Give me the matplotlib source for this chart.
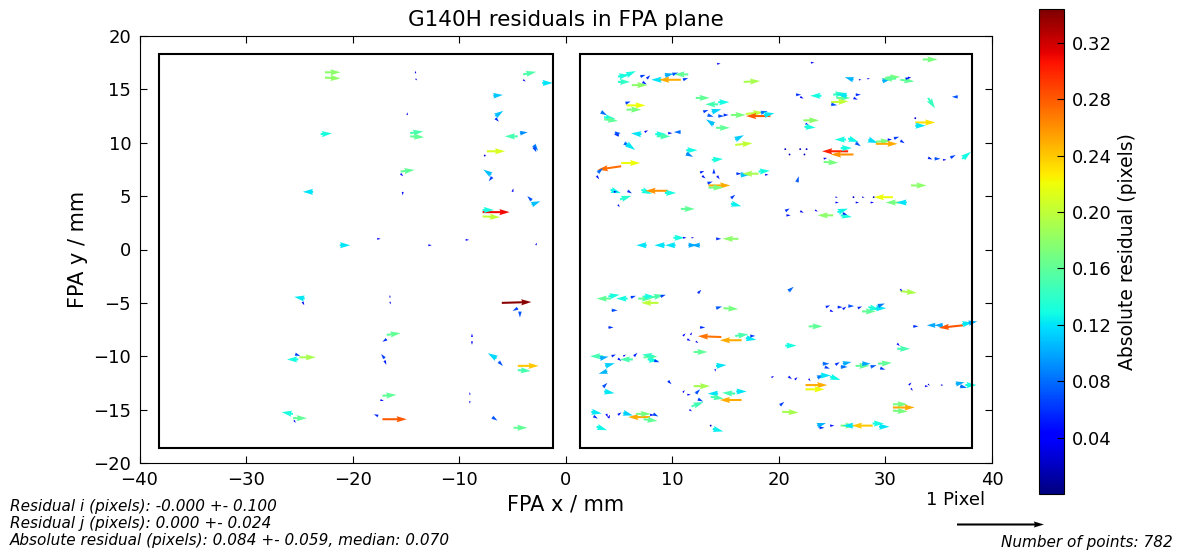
import numpy as np
import matplotlib
matplotlib.use("Agg")
import matplotlib.pyplot as plt
from matplotlib.patches import Rectangle
from matplotlib.colors import Normalize

# ---------------- data (x_mm, y_mm, resid_i_px, resid_j_px) ----------------
left_upper = [
    (-22.6, 16.6, 0.18, 0.0), (-22.6, 16.1, 0.18, -0.01), (-14.1, 16.5, 0.0, 0.03),
    (-14.1, 16.0, 0.02, -0.02), (-4.0, 16.4, 0.15, 0.03), (-4.0, 15.9, 0.03, -0.02),
    (-2.2, 15.6, 0.12, 0.0), (-6.8, 14.4, 0.11, 0.01), (-14.9, 12.6, 0.01, 0.03),
    (-6.6, 12.5, 0.09, 0.06), (-6.6, 12.3, 0.04, -0.04), (-23.0, 10.8, 0.13, 0.01),
    (-14.6, 10.9, 0.15, 0.02), (-14.6, 10.6, 0.16, -0.01), (-4.5, 10.6, -0.15, 0.0),
    (-4.3, 10.9, 0.09, 0.01), (-3.0, 9.8, 0.05, -0.07), (-3.0, 9.6, 0.03, -0.06),
    (-7.4, 9.2, 0.21, 0.0), (-7.6, 8.8, 0.02, -0.01), (-15.5, 7.3, 0.16, 0.02),
    (-15.5, 7.1, 0.03, -0.03), (-7.0, 7.0, -0.09, 0.06), (-6.9, 6.8, -0.04, -0.05),
    (-23.7, 5.4, -0.12, 0.0), (-15.3, 5.4, 0.0, -0.04), (-5.0, 5.4, 0.01, 0.04),
    (-3.2, 4.6, -0.05, 0.05), (-3.2, 4.2, 0.10, 0.04), (-7.8, 3.5, 0.31, 0.0),
    (-7.8, 3.7, 0.13, 0.0), (-7.8, 3.1, 0.20, -0.01), (-17.7, 1.0, 0.04, 0.0),
    (-12.9, 0.4, 0.04, 0.0), (-9.4, 0.9, 0.04, 0.0), (-2.8, 0.4, 0.01, 0.03),
    (-21.2, 0.4, 0.12, 0.0),
]
left_lower = [
    (-24.5, -4.6, -0.12, 0.02), (-24.7, -4.9, 0.02, -0.04), (-16.5, -4.5, 0.0, 0.03),
    (-16.5, -4.9, 0.01, -0.03), (-6.0, -5.0, 0.34, 0.01), (-4.5, -5.5, -0.06, -0.03),
    (-4.3, -5.8, 0.0, -0.07), (-16.8, -8.0, 0.16, 0.02), (-16.8, -8.4, -0.05, -0.03),
    (-8.8, -8.2, 0.0, 0.04), (-8.8, -8.6, 0.0, -0.04), (-25.4, -9.8, 0.06, -0.02),
    (-25.1, -10.3, -0.13, 0.0), (-25.0, -10.1, 0.19, 0.0), (-17.0, -10.2, -0.04, 0.05),
    (-17.0, -10.4, 0.02, -0.05), (-6.5, -10.2, -0.10, 0.06), (-6.3, -10.5, 0.05, -0.05),
    (-4.5, -10.9, 0.24, 0.0), (-4.5, -11.3, 0.15, -0.01), (-17.2, -13.7, 0.16, 0.01),
    (-17.4, -14.1, 0.04, -0.01), (-9.0, -13.6, 0.0, 0.03), (-9.0, -14.2, 0.0, -0.03),
    (-25.6, -15.4, -0.13, 0.02), (-25.6, -15.8, 0.16, 0.0), (-25.5, -16.0, 0.02, -0.03),
    (-17.6, -15.6, -0.05, 0.02), (-17.2, -15.9, 0.28, 0.0), (-6.9, -15.7, 0.06, -0.04),
    (-4.9, -16.7, 0.16, 0.0),
]
right_upper_a = [
    (4.9, 16.2, 0.13, 0.02), (4.9, 15.7, 0.14, 0.0), (5.6, 16.3, 0.12, 0.05),
    (7.0, 16.2, 0.06, 0.02), (7.2, 15.7, 0.05, -0.03), (7.6, 16.0, 0.04, 0.04),
    (9.0, 15.9, -0.12, 0.0), (9.3, 16.3, 0.10, 0.02), (10.0, 16.4, 0.07, 0.02),
    (11.5, 16.4, -0.16, 0.0), (10.8, 15.9, -0.25, 0.0), (11.0, 15.9, 0.06, 0.02),
    (6.2, 15.4, 0.18, 0.0), (14.2, 17.4, 0.04, 0.0), (16.7, 15.7, 0.19, 0.01),
    (12.2, 14.2, 0.16, 0.0), (5.7, 13.5, 0.22, 0.0), (5.6, 13.7, 0.06, 0.02),
    (5.7, 13.1, 0.17, 0.0), (3.3, 12.9, 0.07, -0.04), (3.6, 12.4, 0.13, -0.02),
    (3.6, 12.2, 0.16, -0.02), (14.3, 13.6, -0.15, 0.0), (14.3, 13.8, 0.13, 0.0),
    (12.9, 12.9, 0.06, 0.02), (13.3, 12.6, 0.07, -0.02), (13.7, 12.9, 0.11, 0.03),
    (14.3, 12.5, 0.07, 0.0), (14.8, 12.6, 0.06, 0.0), (15.5, 12.6, 0.17, 0.0),
    (16.9, 12.7, 0.20, 0.02), (19.2, 12.5, -0.28, 0.0), (18.3, 12.8, 0.08, 0.02),
    (18.6, 12.6, 0.12, 0.02), (13.9, 11.7, -0.09, 0.06), (14.1, 11.4, 0.16, 0.0),
    (4.6, 10.9, 0.07, 0.0), (5.0, 10.7, -0.06, 0.01), (7.1, 10.8, -0.12, 0.01),
    (7.4, 11.0, 0.04, 0.02), (8.4, 10.8, 0.13, 0.0), (8.6, 10.6, 0.15, 0.0),
    (9.6, 10.9, 0.05, 0.0), (10.8, 11.0, -0.08, 0.0), (5.5, 10.0, 0.06, -0.05),
    (5.7, 9.9, 0.10, -0.07), (15.9, 10.3, 0.10, 0.05), (15.9, 9.8, 0.20, 0.02),
    (11.3, 9.3, 0.13, 0.0), (11.3, 9.0, 0.08, -0.04), (13.7, 8.4, 0.13, 0.01),
    (5.2, 8.1, 0.22, 0.0), (5.2, 7.8, -0.27, -0.04), (3.0, 7.2, 0.06, 0.05),
    (2.9, 6.9, 0.03, -0.04),
]
right_upper_b = [
    (12.6, 7.2, 0.05, 0.02), (12.8, 6.9, 0.04, -0.03), (13.9, 7.1, 0.0, 0.06),
    (14.2, 6.9, 0.03, -0.04), (16.0, 7.1, 0.06, 0.0), (16.4, 7.0, 0.11, 0.0),
    (18.1, 7.1, -0.19, 0.0), (18.1, 7.3, 0.13, 0.01), (18.7, 7.0, 0.04, 0.0),
    (13.4, 6.0, 0.25, 0.0), (13.3, 6.2, 0.06, 0.02), (13.4, 5.8, 0.17, 0.0),
    (4.2, 5.6, 0.12, -0.04), (4.5, 5.4, 0.04, 0.0), (5.8, 5.5, 0.05, -0.03),
    (7.1, 5.6, 0.12, -0.05), (9.6, 5.5, -0.26, 0.0), (9.3, 5.3, 0.13, 0.0),
    (5.1, 4.7, 0.13, 0.04), (4.9, 4.2, 0.02, -0.03), (15.5, 4.8, 0.05, 0.04),
    (15.5, 4.3, 0.12, -0.03), (10.8, 3.8, 0.16, 0.0), (10.1, 1.1, 0.13, 0.0),
    (11.0, 1.1, 0.04, 0.0), (11.8, 1.1, 0.03, 0.0), (16.2, 1.0, -0.18, 0.0),
    (14.1, 1.0, 0.06, 0.0), (7.6, 0.4, -0.12, 0.0), (9.3, 0.4, -0.12, 0.0),
    (10.3, 0.4, -0.12, 0.0), (11.5, 0.4, 0.10, 0.0), (12.6, 0.4, -0.10, 0.0),
]
right_upper_c = [
    (23.0, 17.5, 0.04, 0.0), (33.5, 17.8, 0.17, 0.0), (27.0, 15.9, -0.10, 0.03),
    (27.5, 15.9, 0.03, 0.0), (28.3, 16.0, 0.03, 0.0), (29.7, 15.8, 0.10, 0.02),
    (30.0, 16.1, 0.17, 0.01), (31.0, 16.0, -0.16, 0.0), (31.4, 15.9, 0.16, -0.02),
    (31.9, 16.0, 0.05, 0.01), (32.1, 16.1, 0.04, 0.0), (21.6, 14.5, 0.06, 0.0),
    (22.0, 14.3, 0.04, -0.02), (24.0, 14.4, -0.13, 0.0), (25.1, 14.5, 0.14, 0.02),
    (25.4, 14.2, 0.16, 0.0), (26.4, 14.4, -0.12, 0.02), (27.2, 14.5, 0.06, 0.0),
    (27.0, 14.2, 0.05, -0.02), (24.9, 13.8, 0.20, 0.01), (24.9, 13.6, 0.07, -0.01),
    (34.0, 14.2, 0.08, -0.12), (36.8, 14.3, -0.07, 0.0), (22.3, 12.1, 0.18, 0.0),
    (22.5, 11.8, 0.04, -0.02), (22.4, 11.5, 0.13, -0.01), (32.8, 11.9, 0.23, 0.0),
    (32.8, 12.3, 0.02, 0.01), (32.8, 11.6, 0.12, 0.0), (26.3, 10.3, -0.13, 0.0),
    (26.5, 10.4, 0.12, -0.04), (27.2, 10.0, 0.06, -0.04), (28.4, 10.3, 0.11, -0.04),
    (29.1, 10.1, 0.17, 0.01), (29.1, 9.9, 0.25, 0.0), (30.2, 10.3, 0.05, 0.0),
    (30.8, 10.4, 0.06, 0.02), (31.4, 10.2, 0.05, -0.03),
]
right_upper_d = [
    (20.6, 9.4, 0.02, 0.0), (21.0, 8.9, 0.02, 0.0), (22.0, 9.4, 0.02, 0.0),
    (22.6, 9.4, 0.02, 0.0), (22.4, 8.9, 0.02, 0.0), (26.5, 9.2, -0.30, 0.0),
    (25.8, 9.5, 0.13, 0.0), (27.0, 8.9, -0.26, 0.0), (24.2, 8.2, 0.17, -0.01),
    (24.2, 8.5, 0.04, 0.01), (34.0, 8.6, 0.05, -0.02), (34.6, 8.5, 0.07, 0.0),
    (35.4, 8.4, 0.04, 0.0), (36.1, 8.6, 0.06, 0.03), (37.2, 8.5, 0.10, 0.08),
    (21.7, 6.3, 0.02, 0.07), (32.4, 6.0, 0.18, 0.0), (25.3, 4.9, 0.03, 0.0),
    (27.0, 4.9, 0.02, 0.0), (27.8, 4.9, 0.03, 0.0), (28.9, 4.9, 0.02, 0.0),
    (30.7, 4.9, -0.22, 0.0), (25.3, 4.4, 0.04, 0.0), (27.2, 4.4, 0.04, 0.0),
    (31.4, 4.4, -0.17, 0.0), (32.0, 4.4, -0.12, 0.0), (28.6, 4.4, 0.04, 0.0),
    (20.6, 3.6, 0.05, 0.03), (20.7, 3.2, 0.05, 0.0), (22.0, 3.6, 0.04, -0.02),
    (23.4, 3.7, 0.03, -0.02), (25.1, 3.2, -0.18, 0.0), (25.5, 3.5, 0.12, 0.04),
    (25.8, 3.2, 0.13, -0.02), (26.0, 3.4, 0.05, -0.02),
]
right_lower_a = [
    (4.2, -4.6, -0.16, 0.0), (4.0, -4.4, 0.13, 0.02), (5.8, -4.6, -0.13, 0.0),
    (6.1, -4.5, 0.06, 0.02), (6.8, -4.6, 0.16, 0.0), (7.3, -4.4, 0.13, 0.0),
    (8.7, -5.0, -0.20, 0.0), (8.0, -4.5, 0.15, 0.03), (8.9, -4.4, 0.06, 0.02),
    (4.3, -5.7, 0.07, 0.0), (12.4, -4.1, 0.04, 0.04), (14.1, -5.5, 0.07, 0.02),
    (14.8, -5.5, 0.17, -0.01), (4.0, -7.3, 0.06, 0.0), (12.6, -7.3, 0.06, 0.0),
    (11.0, -8.1, 0.03, 0.03), (11.4, -8.4, 0.04, -0.02), (11.7, -8.0, 0.02, 0.03),
    (12.2, -8.6, 0.03, -0.02), (14.6, -8.2, -0.27, 0.01), (16.5, -8.5, -0.25, 0.0),
    (15.9, -8.1, 0.15, 0.02), (16.9, -8.3, 0.12, -0.02), (17.3, -8.1, 0.06, 0.0),
    (12.0, -9.6, 0.16, 0.0), (3.5, -10.0, -0.15, 0.0), (3.2, -10.2, 0.10, 0.02),
    (4.3, -10.0, 0.05, 0.02), (4.9, -10.2, 0.04, -0.03), (5.4, -10.0, 0.03, 0.02),
    (6.3, -10.3, -0.15, 0.0), (6.4, -10.0, 0.04, 0.04), (7.3, -10.1, 0.16, 0.01),
    (7.7, -10.3, 0.13, -0.02), (8.3, -10.0, -0.14, 0.02), (8.3, -10.4, 0.06, -0.02),
    (3.7, -10.9, 0.11, 0.03), (3.9, -11.4, -0.10, -0.03), (14.1, -10.9, 0.12, 0.01),
    (14.0, -11.2, 0.01, -0.03), (9.6, -12.3, 0.04, -0.04),
]
right_lower_b = [
    (3.5, -12.9, 0.05, 0.05), (3.6, -13.3, 0.12, -0.02), (12.0, -12.8, 0.19, 0.0),
    (11.0, -13.4, 0.02, 0.03), (11.4, -13.6, 0.04, 0.0), (12.2, -13.5, 0.05, 0.05),
    (12.4, -14.0, 0.06, -0.03), (14.3, -13.5, -0.12, 0.0), (13.6, -13.8, 0.15, -0.02),
    (15.9, -13.5, -0.15, 0.01), (16.0, -13.3, 0.12, 0.0), (16.5, -14.1, -0.25, 0.0),
    (11.8, -14.7, 0.14, 0.05), (11.6, -15.0, 0.03, -0.02), (2.4, -15.2, 0.12, -0.02),
    (2.6, -15.6, 0.05, -0.03), (3.8, -15.4, 0.02, -0.04), (4.0, -15.8, 0.02, 0.04),
    (4.9, -15.5, 0.04, 0.03), (5.4, -15.3, 0.11, -0.03), (7.9, -15.7, -0.25, 0.0),
    (6.6, -15.4, 0.17, 0.0), (7.3, -15.9, 0.16, -0.02), (7.9, -15.5, 0.05, 0.0),
    (8.2, -15.4, 0.06, -0.03), (2.9, -16.6, 0.12, -0.04), (13.6, -16.5, 0.02, 0.0),
    (13.8, -16.8, 0.12, -0.03),
]
right_lower_c = [
    (20.9, -3.9, 0.06, 0.05), (31.4, -3.9, 0.19, -0.02), (31.4, -3.7, 0.02, -0.03),
    (24.4, -5.4, 0.05, 0.02), (24.8, -5.7, 0.04, -0.02), (25.5, -5.4, 0.06, 0.0),
    (26.0, -5.6, 0.04, 0.03), (26.5, -5.3, 0.07, 0.0), (27.4, -5.5, 0.05, 0.02),
    (27.8, -5.8, 0.16, 0.0), (28.4, -5.4, 0.13, -0.03), (29.1, -5.5, 0.12, 0.0),
    (29.3, -5.3, 0.08, 0.03), (22.8, -7.2, 0.16, 0.0), (20.6, -9.0, 0.13, 0.0),
    (32.6, -7.2, 0.06, 0.0), (34.7, -7.1, -0.10, 0.0), (35.4, -7.1, -0.10, 0.0),
    (37.3, -7.1, -0.28, -0.03), (37.2, -7.0, 0.12, 0.02), (37.8, -6.9, 0.10, 0.02),
    (31.1, -9.3, 0.15, 0.0), (31.1, -8.8, 0.03, -0.03),
]
right_lower_d = [
    (24.1, -10.7, 0.08, 0.0), (24.3, -11.0, 0.06, -0.02), (25.3, -10.8, 0.05, 0.03),
    (25.8, -11.0, 0.08, 0.0), (26.0, -10.7, 0.10, 0.02), (27.2, -10.9, 0.16, 0.0),
    (27.8, -10.7, 0.10, 0.0), (28.6, -11.0, 0.07, 0.02), (29.3, -10.7, 0.16, 0.01),
    (29.5, -11.1, 0.06, -0.02), (19.3, -12.0, 0.03, 0.02), (20.9, -11.9, 0.04, -0.03),
    (21.5, -12.2, 0.03, 0.03), (22.8, -12.1, 0.02, -0.03), (23.6, -12.0, 0.08, 0.03),
    (23.9, -11.8, 0.12, 0.0), (24.8, -11.9, 0.12, -0.04), (22.5, -12.7, 0.25, 0.0),
    (22.5, -13.1, 0.22, 0.0), (32.2, -12.7, 0.03, 0.03), (32.4, -13.0, 0.02, -0.03),
    (33.7, -12.8, 0.04, 0.0), (34.0, -12.6, 0.02, -0.02), (35.2, -12.7, 0.03, 0.0),
    (36.6, -12.6, 0.10, 0.02), (37.0, -12.8, 0.08, -0.02), (37.5, -12.7, 0.13, 0.0),
    (20.1, -14.6, 0.05, 0.04), (20.3, -15.2, 0.19, -0.01), (30.7, -14.5, 0.17, 0.0),
    (30.7, -14.8, 0.25, 0.0), (30.7, -15.1, 0.17, -0.01), (23.6, -16.5, 0.10, 0.03),
    (23.8, -16.7, 0.06, 0.0), (24.8, -16.5, 0.05, 0.0), (25.8, -16.5, 0.17, 0.0),
    (27.0, -16.5, -0.12, 0.0), (28.8, -16.5, -0.24, 0.0), (28.8, -16.3, 0.13, 0.0),
    (29.4, -16.6, 0.12, 0.0),
]

# detector outlines (mm)
det_x0 = [-38.2, 1.3]
det_x1 = [-1.2, 38.1]
det_y0 = [-18.6, -18.6]
det_y1 = [18.3, 18.3]

stats_lines = [
    "Residual i (pixels): -0.000 +- 0.100",
    "Residual j (pixels): 0.000 +- 0.024",
    "Absolute residual (pixels): 0.084 +- 0.059, median: 0.070",
]
n_points = 782
cbar_ticks = [0.04, 0.08, 0.12, 0.16, 0.20, 0.24, 0.28, 0.32]

# ---------------- assemble ----------------
groups = [left_upper, left_lower, right_upper_a, right_upper_b, right_upper_c,
          right_upper_d, right_lower_a, right_lower_b, right_lower_c, right_lower_d]
arr = np.array([row for g in groups for row in g], dtype=float)
X, Y, U, V = arr[:, 0], arr[:, 1], arr[:, 2], arr[:, 3]
M = np.hypot(U, V)

plt.rcParams['font.family'] = ['DejaVu Sans']
W, H = 1182, 556
fig = plt.figure(figsize=(W / 100, H / 100), dpi=100)
fig.patch.set_facecolor('white')

ax = fig.add_axes([139.5 / W, (H - 463) / H, 852.5 / W, 427 / H])
cax = fig.add_axes([1039 / W, (H - 494) / H, 25 / W, 485 / H])

mm_per_px_arrow = 8.16  # 1 pixel residual drawn as 8.16 mm
norm = Normalize(vmin=0.0, vmax=0.344)
Q = ax.quiver(X, Y, U, V, M, cmap='jet', norm=norm, angles='xy',
              scale_units='xy', scale=1.0 / mm_per_px_arrow, width=0.0024)

for x0, x1, y0, y1 in zip(det_x0, det_x1, det_y0, det_y1):
    ax.add_patch(Rectangle((x0, y0), x1 - x0, y1 - y0, fill=False,
                           edgecolor='black', linewidth=1.5, zorder=1))

ax.set_xlim(-40, 40)
ax.set_ylim(-20, 20)
ax.set_xticks(np.arange(-40, 41, 10))
ax.set_yticks(np.arange(-20, 21, 5))
ax.tick_params(direction='in', top=True, right=True, length=5, labelsize=13, pad=6)
ax.set_xlabel('FPA x / mm', fontsize=15, labelpad=4)
ax.set_ylabel('FPA y / mm', fontsize=15, labelpad=4)
ax.set_title('G140H residuals in FPA plane', fontsize=15.5, pad=7)

cb = fig.colorbar(Q, cax=cax, ticks=cbar_ticks, format='%.2f')
cb.ax.tick_params(direction='in', length=5, labelsize=13, pad=6)
cb.set_label('Absolute residual (pixels)', fontsize=13.5)

ax.quiverkey(Q, 999.5 / W, (H - 524) / H, 1.0, '', labelpos='N',
             coordinates='figure', color='k')
fig.text(956 / W, (H - 500) / H, '1 Pixel', fontsize=13, ha='center', va='center')

for i, line in enumerate(stats_lines):
    fig.text(10 / W, (H - 507 - 16.5 * i) / H, line, fontsize=11, style='italic',
             va='center', ha='left')
fig.text(1173 / W, (H - 542) / H, f'Number of points: {n_points}', fontsize=11,
         style='italic', va='center', ha='right')

fig.savefig('out.png', dpi=100, facecolor='white')
